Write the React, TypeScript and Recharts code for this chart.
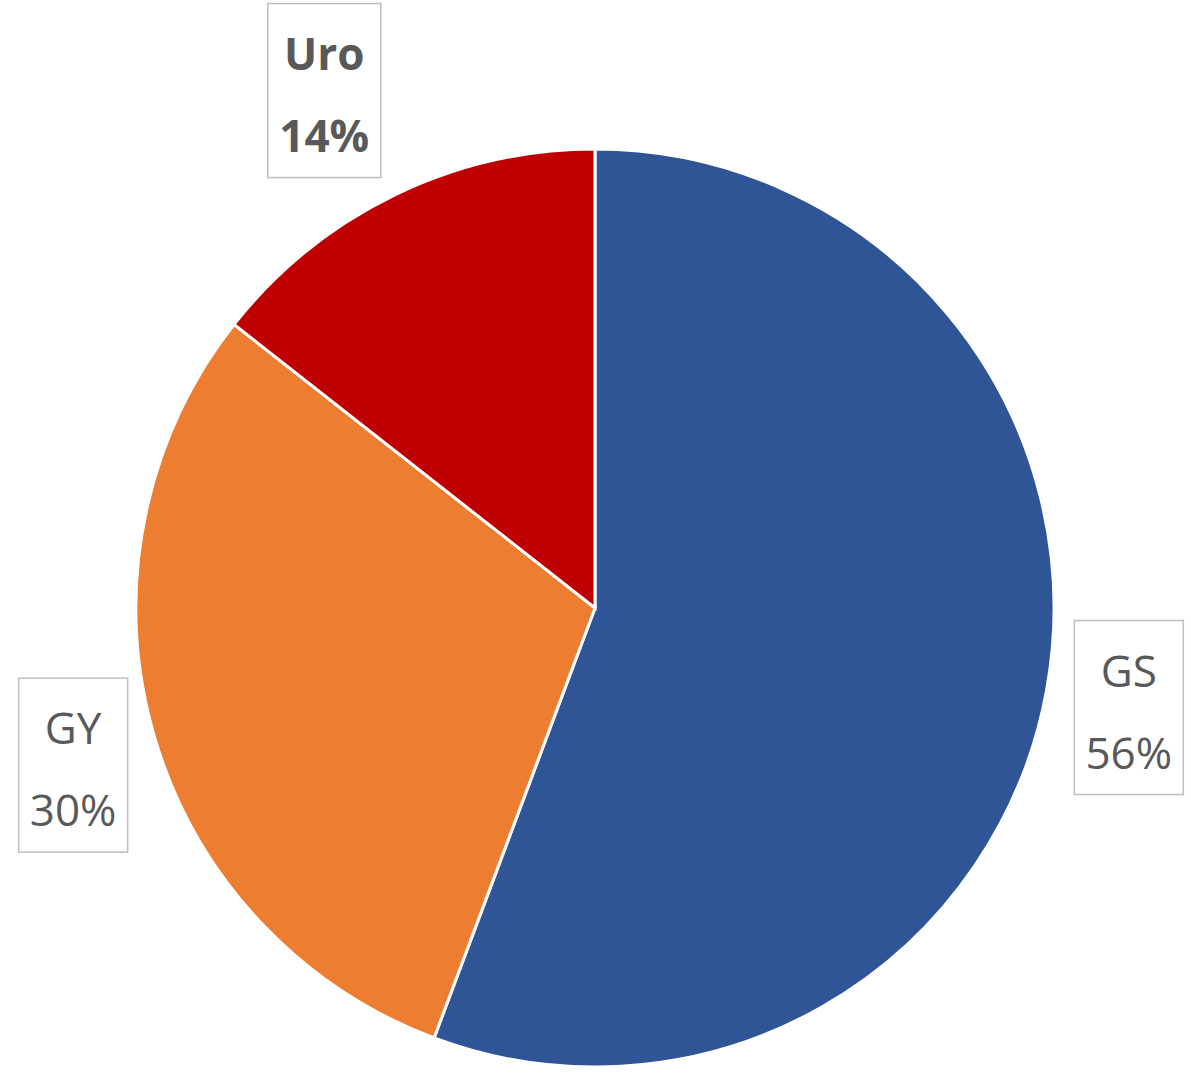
import React from 'react';
import { Cell, Pie, PieChart } from 'recharts';

const categories = ['GS', 'GY', 'Uro'];
const shares = [55.7, 29.9, 14.4];
const colors = ['#2F5597', '#ED7D31', '#C00000'];
const boldLabels = [false, false, true];

const data = categories.map((name, i) => ({ name, value: shares[i] }));

const RAD = Math.PI / 180;
// label boxes: distance beyond the pie edge and a small angular nudge
const labelGap = [84, 86, 125];
const labelNudge = [-0.3, 1.1, 1.7];

function renderLabel(props: any) {
  const { cx, cy, midAngle, outerRadius, percent, index, name } = props;
  const r = outerRadius + labelGap[index];
  const a = (midAngle + labelNudge[index]) * RAD;
  const x = cx + r * Math.cos(-a);
  const y = cy + r * Math.sin(-a);
  const w = index === 2 ? 113 : 109;
  const h = 174;
  const weight = boldLabels[index] ? 700 : 400;
  const font = "'Open Sans', 'Noto Sans', sans-serif";
  return (
    <g key={`lbl-${index}`}>
      <rect x={x - w / 2} y={y - h / 2} width={w} height={h} fill="#ffffff" stroke="#bfbfbf" strokeWidth={1.5} />
      <text x={x} y={y - h / 2 + 66} textAnchor="middle" fill="#595959" fontSize={44} fontWeight={weight} fontFamily={font}>
        {name}
      </text>
      <text x={x} y={y + h / 2 - 26} textAnchor="middle" fill="#595959" fontSize={44} fontWeight={weight} fontFamily={font}>
        {`${Math.round(percent * 100)}%`}
      </text>
    </g>
  );
}

export default function App() {
  return (
    <div style={{ position: 'absolute', left: 0, top: 0, width: 1191, height: 1073, background: '#ffffff' }}>
      <PieChart width={1191} height={1073} margin={{ top: 0, right: 0, bottom: 0, left: 0 }}>
        <Pie
          data={data}
          dataKey="value"
          nameKey="name"
          cx={595}
          cy={608}
          outerRadius={459}
          startAngle={90}
          endAngle={-270}
          stroke="#ffffff"
          strokeWidth={3}
          label={renderLabel}
          labelLine={false}
          isAnimationActive={false}
        >
          {data.map((d, i) => (
            <Cell key={d.name} fill={colors[i]} />
          ))}
        </Pie>
      </PieChart>
    </div>
  );
}
